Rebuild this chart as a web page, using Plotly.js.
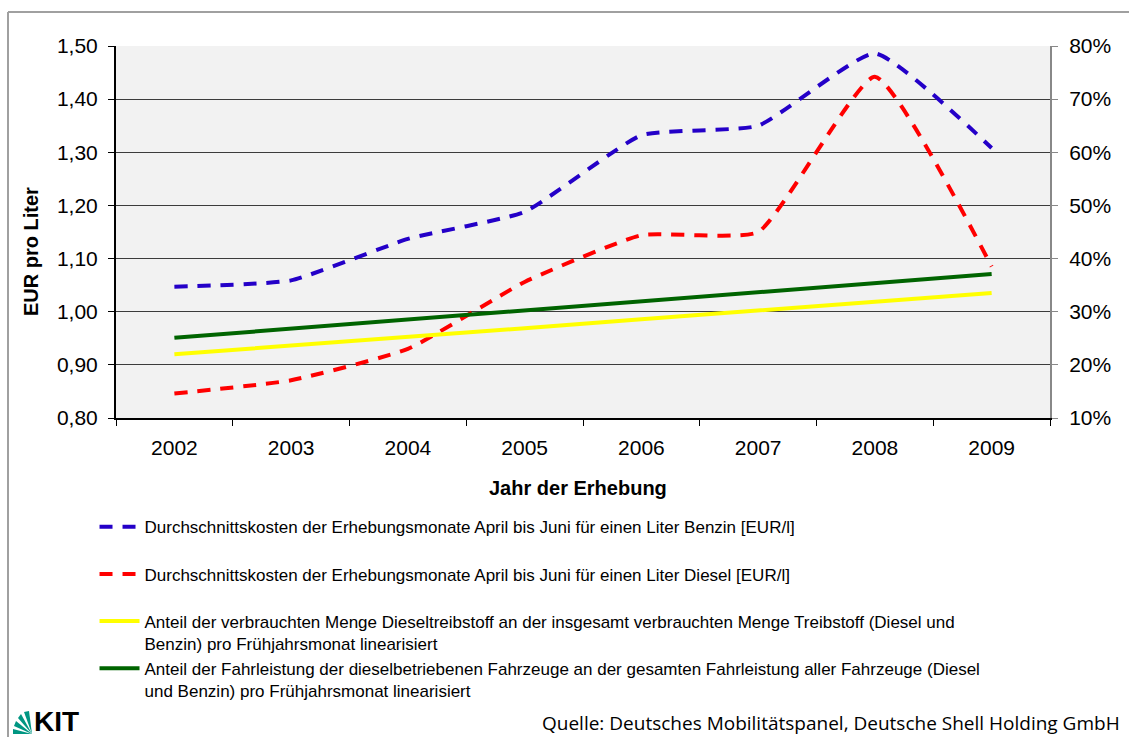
<!DOCTYPE html>
<html><head><meta charset="utf-8">
<script src="https://cdn.plot.ly/plotly-3.0.1.min.js"></script>
<style>html,body{margin:0;padding:0;background:#fff}#chart{width:1129px;height:737px}</style>
</head><body><div id="chart"></div>
<script>
var years = ['2002','2003','2004','2005','2006','2007','2008','2009'];
var benzinPreis = [1.047, 1.059, 1.137, 1.188, 1.332, 1.350, 1.486, 1.308];
var dieselPreis = [0.846, 0.871, 0.930, 1.056, 1.144, 1.150, 1.442, 1.085];
var anteilMenge = [0.220, 0.236, 0.253, 0.269, 0.286, 0.302, 0.319, 0.335];
var anteilFahrleistung = [0.251, 0.268, 0.285, 0.302, 0.320, 0.337, 0.354, 0.371];
var seriesNames = [
  'Durchschnittskosten der Erhebungsmonate April bis Juni für einen Liter Benzin [EUR/l]<br> ',
  'Durchschnittskosten der Erhebungsmonate April bis Juni für einen Liter Diesel [EUR/l]<br> ',
  'Anteil der verbrauchten Menge Dieseltreibstoff an der insgesamt verbrauchten Menge Treibstoff (Diesel und<br>Benzin) pro Frühjahrsmonat linearisiert',
  'Anteil der Fahrleistung der dieselbetriebenen Fahrzeuge an der gesamten Fahrleistung aller Fahrzeuge (Diesel<br>und Benzin) pro Frühjahrsmonat linearisiert'
];
var xTitle = 'Jahr der Erhebung';
var yTitle = 'EUR pro Liter';
var sourceText = 'Quelle: Deutsches Mobilitätspanel, Deutsche Shell Holding GmbH';

var traces = [
  {x: years, y: benzinPreis, name: seriesNames[0], type: 'scatter', mode: 'lines',
   line: {color: '#2400C8', width: 4, dash: '13px,10px', shape: 'spline', smoothing: 0.45}},
  {x: years, y: dieselPreis, name: seriesNames[1], type: 'scatter', mode: 'lines',
   line: {color: '#FF0000', width: 4, dash: '13px,10px', shape: 'spline', smoothing: 0.45}},
  {x: years, y: anteilMenge, name: seriesNames[2], type: 'scatter', mode: 'lines', yaxis: 'y2',
   line: {color: '#FFFF00', width: 4}},
  {x: years, y: anteilFahrleistung, name: seriesNames[3], type: 'scatter', mode: 'lines', yaxis: 'y2',
   line: {color: '#006400', width: 4}}
];

var F = 'Liberation Sans, Arial, sans-serif';
function px(x) { return (x - 116) / 934; }
function py(y) { return (418 - y) / 372; }
function wedge(ax, ay, bx, by) {
  return {type: 'path', xref: 'paper', yref: 'paper', fillcolor: '#009682', line: {width: 0},
    path: 'M ' + px(32) + ',' + py(734) + ' L ' + px(ax) + ',' + py(ay) + ' L ' + px(bx) + ',' + py(by) + ' Z'};
}

var layout = {
  width: 1129, height: 737,
  margin: {l: 116, r: 79, t: 46, b: 319},
  paper_bgcolor: '#ffffff', plot_bgcolor: '#F2F2F2',
  separators: ',.',
  font: {family: F, color: '#000', size: 21},
  showlegend: true,
  xaxis: {
    type: 'category', range: [-0.5, 7.5], fixedrange: true,
    showline: true, linecolor: '#000', linewidth: 2,
    ticks: 'outside', tickson: 'boundaries', ticklen: 6, tickcolor: '#000', tickwidth: 1,
    showgrid: false, zeroline: false, ticklabelstandoff: 10,
    tickfont: {size: 21, family: F}
  },
  yaxis: {
    range: [0.8, 1.5], dtick: 0.1, tick0: 0.8, tickformat: '.2f',
    showline: true, linecolor: '#000', linewidth: 2,
    ticks: 'outside', ticklen: 6, tickcolor: '#000',
    showgrid: true, gridcolor: '#3c3c3c', gridwidth: 1, zeroline: false,
    ticklabelstandoff: 6,
    tickfont: {size: 21, family: F}
  },
  yaxis2: {
    overlaying: 'y', side: 'right', range: [0.10, 0.80], dtick: 0.1, tick0: 0.1, tickformat: '.0%',
    showline: true, linecolor: '#888', linewidth: 2,
    ticks: 'outside', ticklen: 6, tickcolor: '#888',
    showgrid: false, zeroline: false, ticklabelstandoff: 7,
    tickfont: {size: 21, family: F}
  },
  legend: {
    x: -0.023, xanchor: 'left', y: -0.245, yanchor: 'top',
    bgcolor: 'rgba(0,0,0,0)', font: {size: 17, family: F},
    valign: 'top', tracegroupgap: 0, itemwidth: 40
  },
  shapes: [
    {type: 'line', xref: 'paper', yref: 'paper', x0: px(8), x1: px(1140), y0: py(12), y1: py(12),
     line: {color: '#A0A0A0', width: 2}},
    {type: 'line', xref: 'paper', yref: 'paper', x0: px(8), x1: px(8), y0: py(12), y1: py(745),
     line: {color: '#A0A0A0', width: 2}},
    wedge(13, 734, 13, 729),
    wedge(14, 726, 16, 721),
    wedge(18, 718, 21, 714),
    wedge(24, 712, 29, 711)
  ],
  annotations: [
    {xref: 'paper', yref: 'paper', x: px(56), y: py(721), xanchor: 'center', yanchor: 'middle',
     text: '<b>KIT</b>', showarrow: false, borderpad: 0, font: {size: 28, family: F, color: '#000'}},
    {xref: 'paper', yref: 'paper', x: px(1121), y: py(723), xanchor: 'right', yanchor: 'middle',
     text: sourceText, showarrow: false, borderpad: 0,
     font: {size: 19, family: 'Open Sans, sans-serif', color: '#000'}},
    {xref: 'paper', yref: 'paper', x: px(578), y: py(488), xanchor: 'center', yanchor: 'middle',
     text: '<b>' + xTitle + '</b>', showarrow: false, font: {size: 20, family: F, color: '#000'}},
    {xref: 'paper', yref: 'paper', x: px(31), y: py(252), xanchor: 'center', yanchor: 'middle',
     text: '<b>' + yTitle + '</b>', textangle: -90, showarrow: false, font: {size: 20, family: F, color: '#000'}}
  ]
};

Plotly.newPlot('chart', traces, layout, {displayModeBar: false, staticPlot: true});
</script>
</body></html>
